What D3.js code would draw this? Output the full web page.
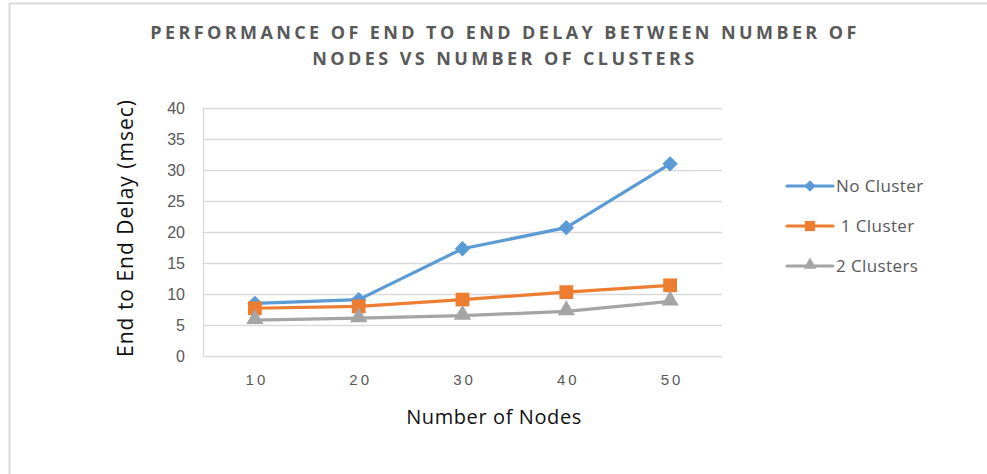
<!DOCTYPE html>
<html>
<head>
<meta charset="utf-8">
<script src="https://cdn.jsdelivr.net/npm/d3@7"></script>
<style>
	html, body { margin: 0; padding: 0; background: #fff; }
	svg { display: block; font-family: "Open Sans", "Liberation Sans", sans-serif; }
</style>
</head>
<body>
<svg id="chart" width="987" height="474"></svg>
<script>
const categories = ['10', '20', '30', '40', '50'];
const no_cluster = [8.5, 9.1, 17.3, 20.7, 31.0];
const one_cluster = [7.7, 8.0, 9.1, 10.3, 11.4];
const two_clusters = [5.8, 6.1, 6.5, 7.2, 8.8];
const y_ticks = [0, 5, 10, 15, 20, 25, 30, 35, 40];

const series = [
	{name: 'No Cluster', values: no_cluster, color: '#5B9BD5', symbol: d3.symbolDiamond2, size: 150, offset: 0},
	{name: ' 1 Cluster', values: one_cluster, color: '#ED7D31', symbol: d3.symbolSquare, size: 190, offset: 0},
	{name: '2 Clusters', values: two_clusters, color: '#A5A5A5', symbol: d3.symbolTriangle, size: 130, offset: -1}
];

const plot = {left: 203, right: 722, top: 108, bottom: 356};

const svg = d3.select('#chart');

// outer frame
svg.append('rect')
	.attr('x', 9.5)
	.attr('y', 3.5)
	.attr('width', 990)
	.attr('height', 480)
	.attr('fill', 'none')
	.attr('stroke', '#d9d9d9')
	.attr('stroke-width', 2);

const x = d3.scalePoint().domain(categories).range([plot.left, plot.right]).padding(0.5);
const y = d3.scaleLinear().domain([0, 40]).range([plot.bottom, plot.top]);

// gridlines
svg.append('g')
	.selectAll('line')
	.data(y_ticks)
	.join('line')
	.attr('x1', plot.left)
	.attr('x2', plot.right)
	.attr('y1', d => Math.round(y(d)) + 0.5)
	.attr('y2', d => Math.round(y(d)) + 0.5)
	.attr('stroke', '#d9d9d9')
	.attr('stroke-width', 1.3);

svg.append('line')
	.attr('x1', plot.left + 0.5)
	.attr('x2', plot.left + 0.5)
	.attr('y1', plot.top)
	.attr('y2', plot.bottom + 0.5)
	.attr('stroke', '#d9d9d9')
	.attr('stroke-width', 1.3);

// y axis labels
const y_axis = svg.append('g')
	.attr('transform', `translate(${plot.left}, 0)`)
	.call(d3.axisLeft(y).tickValues(y_ticks).tickSize(0).tickPadding(18));
y_axis.select('.domain').remove();
y_axis.selectAll('text')
	.attr('fill', '#595959')
	.attr('font-size', 16)
	.attr('dy', '0.35em');

// x axis labels
const x_axis = svg.append('g')
	.attr('transform', `translate(0, ${plot.bottom})`)
	.call(d3.axisBottom(x).tickSize(0).tickPadding(18));
x_axis.select('.domain').remove();
x_axis.selectAll('text')
	.attr('fill', '#595959')
	.attr('font-size', 15)
	.attr('letter-spacing', '3px')
	.attr('dx', '1.5px');

// lines and markers
const line = d3.line()
	.x((d, i) => x(categories[i]))
	.y(d => y(d));

series.forEach(s => {
	svg.append('path')
		.attr('d', line(s.values))
		.attr('fill', 'none')
		.attr('stroke', s.color)
		.attr('stroke-width', 3.2)
		.attr('stroke-linejoin', 'round')
		.attr('stroke-linecap', 'round');

	svg.append('g')
		.selectAll('path')
		.data(s.values)
		.join('path')
		.attr('transform', (d, i) => `translate(${x(categories[i])}, ${y(d) + s.offset})`)
		.attr('d', d3.symbol(s.symbol, s.size))
		.attr('fill', s.color);
});

// legend
const legend = svg.append('g')
	.selectAll('g')
	.data(series)
	.join('g')
	.attr('transform', (d, i) => `translate(787, ${186 + i * 40})`);

legend.append('line')
	.attr('x1', 0)
	.attr('x2', 46)
	.attr('stroke', d => d.color)
	.attr('stroke-width', 3.2)
	.attr('stroke-linecap', 'round');

legend.append('path')
	.attr('transform', d => `translate(23, ${d.offset})`)
	.attr('d', d => d3.symbol(d.symbol, d.size * 0.55)())
	.attr('fill', d => d.color);

legend.append('text')
	.attr('x', 49)
	.attr('dy', '0.35em')
	.attr('fill', '#595959')
	.attr('font-size', 17)
	.attr('letter-spacing', '0.4px')
	.attr('xml:space', 'preserve')
	.text(d => d.name);

// titles
const title = svg.append('text')
	.attr('text-anchor', 'middle')
	.attr('fill', '#595959')
	.attr('font-size', 18)
	.attr('font-weight', 'bold')
	.attr('letter-spacing', '3.4px');
title.append('tspan').attr('x', 505).attr('y', 39).text('PERFORMANCE OF END TO END DELAY BETWEEN NUMBER OF');
title.append('tspan').attr('x', 505).attr('y', 65).text('NODES VS NUMBER OF CLUSTERS');

svg.append('text')
	.attr('x', 494)
	.attr('y', 424)
	.attr('text-anchor', 'middle')
	.attr('fill', '#111')
	.attr('font-size', 20)
	.attr('letter-spacing', '0.6px')
	.text('Number of Nodes');

svg.append('text')
	.attr('transform', 'translate(133, 228) rotate(-90)')
	.attr('text-anchor', 'middle')
	.attr('fill', '#111')
	.attr('font-size', 21)
	.attr('letter-spacing', '1px')
	.text('End to End Delay (msec)');
</script>
</body>
</html>
